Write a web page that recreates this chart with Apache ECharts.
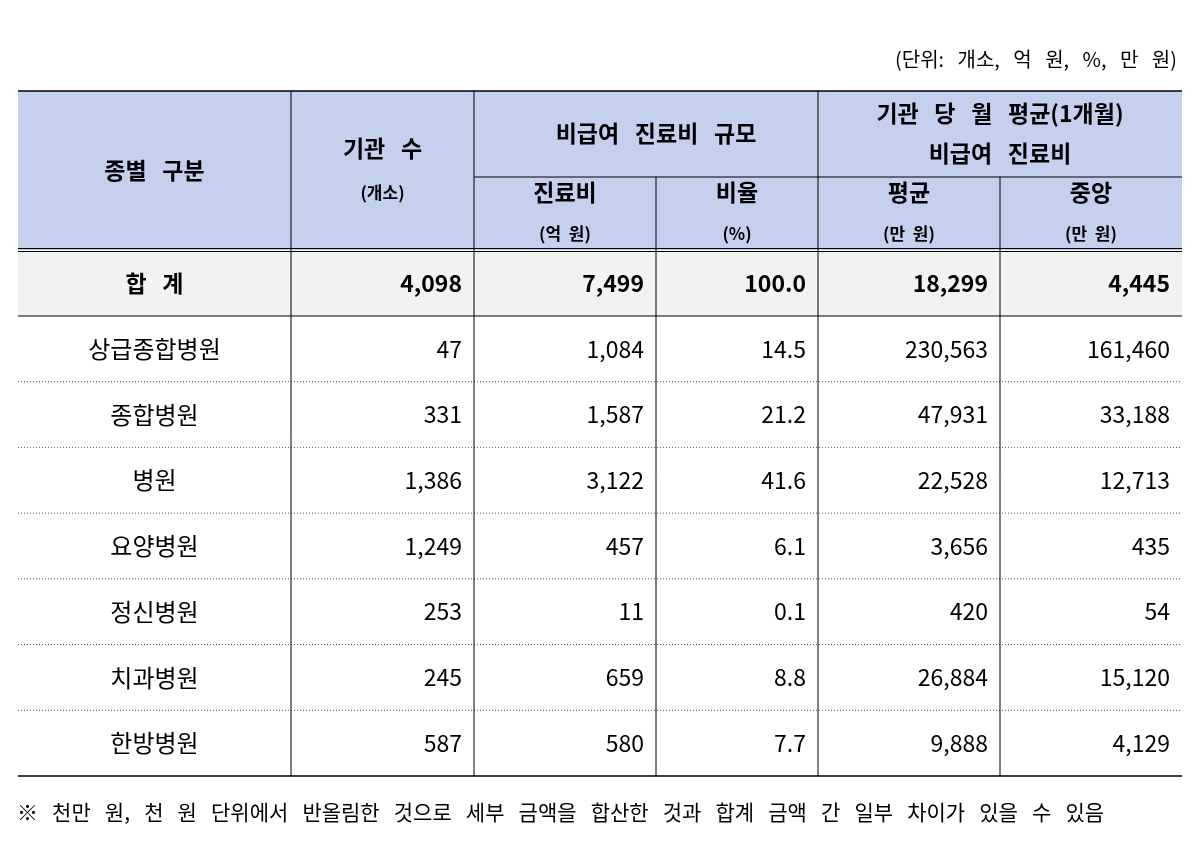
<!DOCTYPE html><html><head><meta charset="utf-8"><script src="https://cdn.jsdelivr.net/npm/echarts@6/dist/echarts.min.js"></script>
<style>body{margin:0}#c{width:1200px;height:865px}</style></head><body><div id="c"></div><script>
const categories=['상급종합병원','종합병원','병원','요양병원','정신병원','치과병원','한방병원'];
const instCount=['47','331','1,386','1,249','253','245','587'];
const costs=['1,084','1,587','3,122','457','11','659','580'];
const ratios=['14.5','21.2','41.6','6.1','0.1','8.8','7.7'];
const means=['230,563','47,931','22,528','3,656','420','26,884','9,888'];
const medians=['161,460','33,188','12,713','435','54','15,120','4,129'];
const total=['합 계','4,098','7,499','100.0','18,299','4,445'];
const unitNote='(단위: 개소, 억 원, %, 만 원)';
const footNote='※ 천만 원, 천 원 단위에서 반올림한 것으로 세부 금액을 합산한 것과 합계 금액 간 일부 차이가 있을 수 있음';

const F='"Noto Sans CJK KR", sans-serif';
const sp=(s,n)=>s.split(' ').join(' '.repeat(n));
const colE=[0,273,456,638,800,982,1164];
const hTop=0,hMid=86,hBot=159,tBot=225,rowH=(685-225)/7;
const texts=[],rects=[],lines=[];
rects.push([0,1164,0,hBot,'#c5d0ee']);
rects.push([0,1164,hBot,tBot,'#f2f2f2']);
const cx=i=>(colE[i]+colE[i+1])/2;
texts.push([cx(0),79,sp('종별 구분',3),23,1,'center']);
texts.push([cx(1),57,sp('기관 수',3),23,1,'center']);
texts.push([cx(1),102,'(개소)',17,1,'center']);
texts.push([colE[3],42,sp('비급여 진료비 규모',3),23,1,'center']);
texts.push([colE[5],22,sp('기관 당 월 평균(1개월)',3),23,1,'center']);
texts.push([colE[5],62,sp('비급여 진료비',3),23,1,'center']);
[['진료비','(억 원)'],['비율','(%)'],['평균','(만 원)'],['중앙','(만 원)']].forEach((s,k)=>{
  texts.push([cx(k+2),101,s[0],23,1,'center']);texts.push([cx(k+2),143,sp(s[1],2),17,1,'center']);
});
const tY=(hBot+tBot)/2;
texts.push([cx(0),tY,sp(total[0],3),23,1,'center']);
for(let c=1;c<6;c++) texts.push([colE[c+1]-12,tY,total[c],23,1,'right']);
categories.forEach((n,r)=>{
  const y=tBot+rowH*(r+0.5);
  texts.push([cx(0),y,n,24,0,'center']);
  [instCount,costs,ratios,means,medians].forEach((arr,c)=>texts.push([colE[c+2]-12,y,arr[r],23,0,'right']));
});
lines.push([0,hTop,1164,hTop,1.5,0]);
lines.push([colE[2],hMid,1164,hMid,1,0]);
lines.push([0,hBot-1.5,1164,hBot-1.5,1,0]);
lines.push([0,hBot+1.5,1164,hBot+1.5,1,0]);
lines.push([0,tBot,1164,tBot,1.2,0]);
for(let r=1;r<7;r++) lines.push([0,tBot+rowH*r,1164,tBot+rowH*r,1,1]);
lines.push([0,685,1164,685,1.5,0]);
[1,2,4].forEach(c=>lines.push([colE[c],0,colE[c],685,1,0]));
[3,5].forEach(c=>lines.push([colE[c],hMid,colE[c],685,1,0]));

const chart=echarts.init(document.getElementById('c'));
chart.setOption({
 animation:false,
 title:[{text:sp(unitNote,3),right:18,top:44,textStyle:{fontFamily:F,fontSize:20,fontWeight:'normal',color:'#000'}},
        {text:sp(footNote,3),left:12,top:797,textStyle:{fontFamily:F,fontSize:21,fontWeight:'normal',color:'#000'}}],
 grid:{left:18,right:18,top:91,bottom:89},
 xAxis:{type:'value',min:0,max:1164,show:false},
 yAxis:{type:'value',min:0,max:685,inverse:true,show:false},
 series:[
  {type:'custom',data:rects,renderItem:(p,api)=>{const a=api.coord([api.value(0),api.value(2)]),b=api.coord([api.value(1),api.value(3)]);
    return{type:'rect',shape:{x:a[0],y:a[1],width:b[0]-a[0],height:b[1]-a[1]},style:{fill:rects[p.dataIndex][4]}};},encode:{x:[0,1],y:[2,3]}},
  {type:'custom',data:lines,renderItem:(p,api)=>{const L=lines[p.dataIndex];const a=api.coord([L[0],L[1]]),b=api.coord([L[2],L[3]]);
    return{type:'line',shape:{x1:a[0],y1:a[1],x2:b[0],y2:b[1]},style:{stroke:L[5]?'#555':'#000',lineWidth:L[4],lineDash:L[5]?[1,2]:null}};},encode:{x:[0,2],y:[1,3]}},
  {type:'custom',data:texts.map(t=>[t[0],t[1]]),renderItem:(p,api)=>{const t=texts[p.dataIndex];const a=api.coord([t[0],t[1]]);
    return{type:'text',x:a[0],y:a[1],style:{text:t[2],fontSize:t[3],fontWeight:t[4]?'bold':'normal',fontFamily:F,fill:'#000',align:t[5],verticalAlign:'middle'}};},encode:{x:0,y:1}}
 ]
});
</script></body></html>
